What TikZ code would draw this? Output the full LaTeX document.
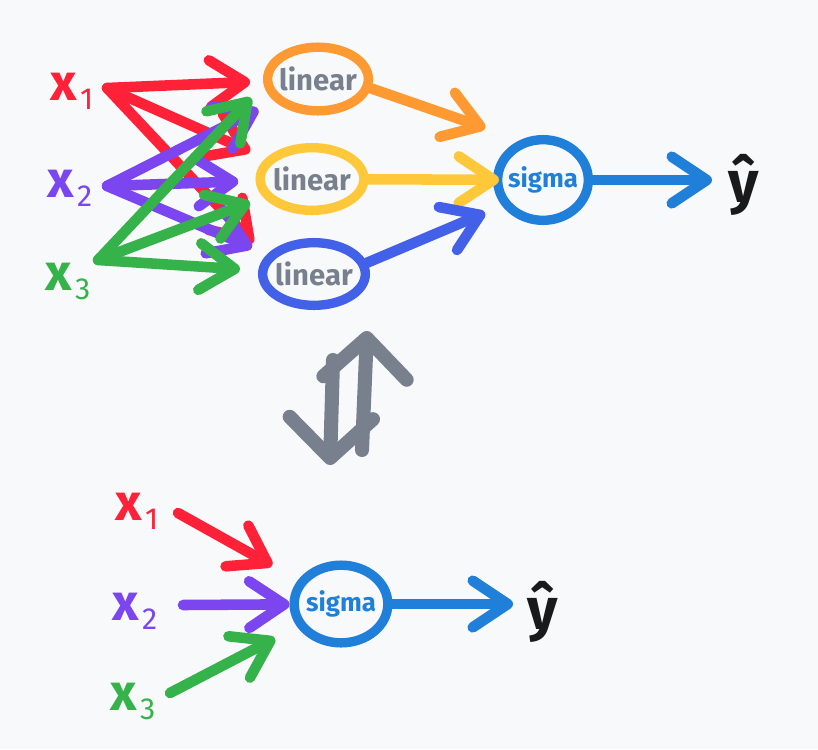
\documentclass[tikz,border=0pt]{standalone}
\usepackage{fontspec}
\setmainfont{Fira Sans}
\usetikzlibrary{positioning,arrows.meta,shapes.geometric}
\definecolor{PaperBg}{RGB}{248,249,251}
\definecolor{InRed}{RGB}{255,33,56}
\definecolor{InPurple}{RGB}{123,69,240}
\definecolor{InGreen}{RGB}{54,178,74}
\definecolor{LinOrange}{RGB}{255,154,51}
\definecolor{LinYellow}{RGB}{255,200,58}
\definecolor{LinBlue}{RGB}{67,97,232}
\definecolor{SigBlue}{RGB}{31,127,217}
\definecolor{SlateGray}{RGB}{119,128,140}
\definecolor{InkBlack}{RGB}{26,26,26}
\newcommand{\xsub}[1]{{\bfseries x}\kern3pt\raisebox{-8pt}{\fontsize{26}{26}\selectfont #1}}
\tikzset{
  wire/.style={-{Straight Barb[round,length=10.5mm,width=14mm]},line width=9pt,line cap=round},
  ring/.style={ellipse,draw=#1,line width=8pt,inner sep=0pt},
  lintext/.style={text=SlateGray,font=\fontsize{25}{25}\selectfont\bfseries},
  sigtext/.style={text=SigBlue,font=\fontsize{22}{22}\selectfont\bfseries},
  inlabel/.style={anchor=base west,inner sep=0pt,font=\fontsize{44}{44}\selectfont},
  hatlabel/.style={anchor=base west,inner sep=0pt,text=InkBlack,
    font=\fontsize{50}{50}\selectfont\bfseries},
  swaparrow/.style={-{Straight Barb[round,length=12mm,width=25mm]},line width=12pt,
    line cap=round,draw=SlateGray}
}

\begin{document}
\begin{tikzpicture}[x=0.03cm,y=-0.03cm]
  \fill[PaperBg] (0,0) rectangle (818,749);
  \useasboundingbox (0,0) rectangle (818,749);

  % top: three linear units feeding one sigma
  \node[ring=LinOrange,minimum width=3.02cm,minimum height=1.91cm,
    label={[lintext]center:linear}] (lin1) at (318,79) {};
  \node[ring=LinYellow,minimum width=3.11cm,minimum height=1.88cm,
    label={[lintext]center:linear}] (lin2) at (312,179) {};
  \node[ring=LinBlue,minimum width=3.08cm,minimum height=1.88cm,
    label={[lintext]center:linear}] (lin3) at (314,274) {};
  \node[ring=SigBlue,minimum width=2.72cm,minimum height=2.42cm,
    label={[sigtext]center:sigma}] (sigT) at (543,180) {};

  \node[inlabel,text=InRed] (x1) at (50,100) {\xsub{1}};
  \node[inlabel,text=InPurple] (x2) at (47,197) {\xsub{2}};
  \node[inlabel,text=InGreen] (x3) at (45,290) {\xsub{3}};
  \node[hatlabel] (yT) at (728,202) {ŷ};

  \coordinate (x1s) at (107,88);
  \coordinate (x2s) at (107,186);
  \coordinate (x3s) at (98,260);

  \draw[wire,InRed,shorten >=0.39cm] (x1s) -- (lin1);
  \draw[wire,InRed,shorten >=0.51cm] (x1s) -- (lin2);
  \draw[wire,InRed,shorten >=0.54cm] (x1s) -- (lin3.160);
  \draw[wire,InPurple,shorten >=0.54cm] (x2s) -- (lin1);
  \draw[wire,InPurple,shorten >=0.52cm] (x2s) -- (lin2);
  \draw[wire,InPurple,shorten >=0.5cm] (x2s) -- (lin3);
  \draw[wire,InGreen,shorten >=0.55cm] (x3s) -- (lin1.186);
  \draw[wire,InGreen,shorten >=0.43cm] (x3s) -- (lin2);
  \draw[wire,InGreen,shorten >=0.55cm] (x3s) -- (lin3);

  \draw[wire,LinOrange,shorten >=1.1cm] (lin1.-10) -- (sigT.120);
  \draw[wire,LinYellow,shorten >=-0.18cm] (lin2) -- (sigT);
  \draw[wire,LinBlue,shorten >=0.55cm] (lin3.12) -- (sigT.212);
  \draw[wire,SigBlue,shorten >=0.48cm] (sigT.east) -- (sigT.east -| yT.west);

  % swap sign between the two nets
  \draw[swaparrow] (362,450) -- (367,331);
  \draw[swaparrow] (333,360) -- (330,465);

  % bottom: inputs straight into sigma
  \node[ring=SigBlue,minimum width=2.81cm,minimum height=2.33cm,
    label={[sigtext]center:sigma}] (sigB) at (341,604) {};
  \node[inlabel,text=InRed] (x1b) at (115,520) {\xsub{1}};
  \node[inlabel,text=InPurple] (x2b) at (112,620) {\xsub{2}};
  \node[inlabel,text=InGreen] (x3b) at (110,710) {\xsub{3}};
  \node[hatlabel] (yB) at (527,629) {ŷ};

  \coordinate (x1bs) at (178,513);
  \coordinate (x2bs) at (183,605);
  \coordinate (x3bs) at (170,693);

  \draw[wire,InRed,shorten >=0.89cm] (x1bs) -- (sigB);
  \draw[wire,InPurple] (x2bs) -- (sigB);
  \draw[wire,InGreen,shorten >=0.75cm] (x3bs) -- (sigB);
  \draw[wire,SigBlue,shorten >=0.42cm] (sigB.east) -- (sigB.east -| yB.west);
\end{tikzpicture}
\end{document}
